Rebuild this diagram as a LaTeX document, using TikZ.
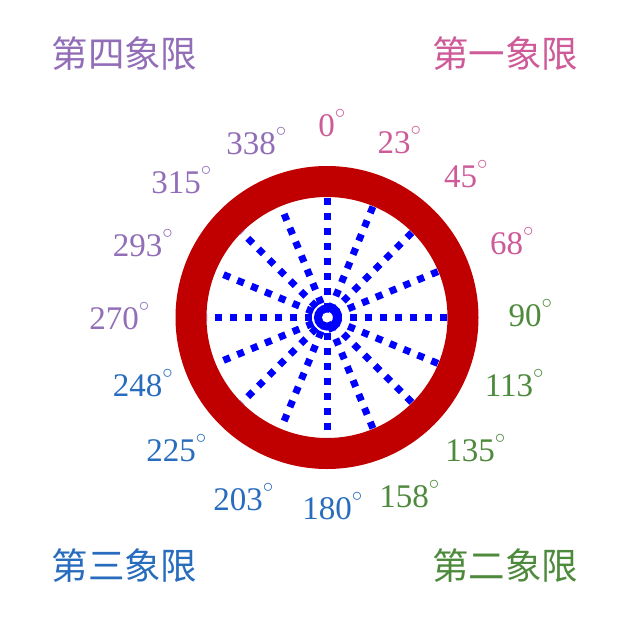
\documentclass[tikz,border=0pt]{standalone}
\usepackage{fontspec}
\setmainfont{Liberation Serif}
\newfontfamily\cjk{Noto Sans CJK SC}
\definecolor{ringred}{RGB}{192,0,0}
\definecolor{spokeblue}{RGB}{0,0,255}
\definecolor{qpink}{RGB}{206,90,152}
\definecolor{qgreen}{RGB}{78,138,60}
\definecolor{qblue}{RGB}{40,108,190}
\definecolor{qpurple}{RGB}{146,110,184}
\tikzset{
  spoke/.style={draw=spokeblue, line width=7pt, dash pattern=on 7pt off 8pt},
  lab/.style={inner sep=0pt, text=#1, font=\fontsize{33}{33}\selectfont},
  quad/.style={inner sep=0pt, text=#1, font=\cjk\fontsize{36.5}{36.5}\selectfont}
}
\newcommand{\dg}{\rlap{\smash{\raisebox{18pt}{\fontsize{20}{20}\selectfont$\circ$}}}}
\begin{document}
\begin{tikzpicture}[x=1pt,y=-1pt]
\useasboundingbox[fill=white] (0,0) rectangle (635,632);
\coordinate (c) at (327,317.5);
% ring
\draw[ringred, line width=31pt] (c) circle[radius=136];
% spokes
\foreach \a in {0,22.5,...,157.5} {
  \draw[spoke, shift={(c)}] (\a-90:120) -- (\a+90:120);
}
\draw[spokeblue, line width=7pt] (c) circle[radius=9.5];
\fill[white] (c) circle[radius=5];
% degree labels
\node[lab=qpink] (l0) at (326.5,126) {0\dg};
\node[lab=qpink] (l23) at (394,142.5) {23\dg};
\node[lab=qpink] (l45) at (460.5,177) {45\dg};
\node[lab=qpink] (l68) at (506.5,243.5) {68\dg};
\node[lab=qgreen] (l90) at (525,316) {90\dg};
\node[lab=qgreen] (l113) at (509,386) {113\dg};
\node[lab=qgreen] (l135) at (470,451) {135\dg};
\node[lab=qgreen] (l158) at (404,496.5) {158\dg};
\node[lab=qblue] (l180) at (327,508.5) {180\dg};
\node[lab=qblue] (l203) at (238,500) {203\dg};
\node[lab=qblue] (l225) at (171,451) {225\dg};
\node[lab=qblue] (l248) at (137.5,386) {248\dg};
\node[lab=qpurple] (l270) at (114,319) {270\dg};
\node[lab=qpurple] (l293) at (137.5,245.5) {293\dg};
\node[lab=qpurple] (l315) at (176,182.5) {315\dg};
\node[lab=qpurple] (l338) at (251,144) {338\dg};
% quadrant names
\node[quad=qpurple] (q4) at (124.5,54) {第四象限};
\node[quad=qpink] (q1) at (505,54) {第一象限};
\node[quad=qblue] (q3) at (124.5,566) {第三象限};
\node[quad=qgreen] (q2) at (505,566) {第二象限};
\end{tikzpicture}
\end{document}
